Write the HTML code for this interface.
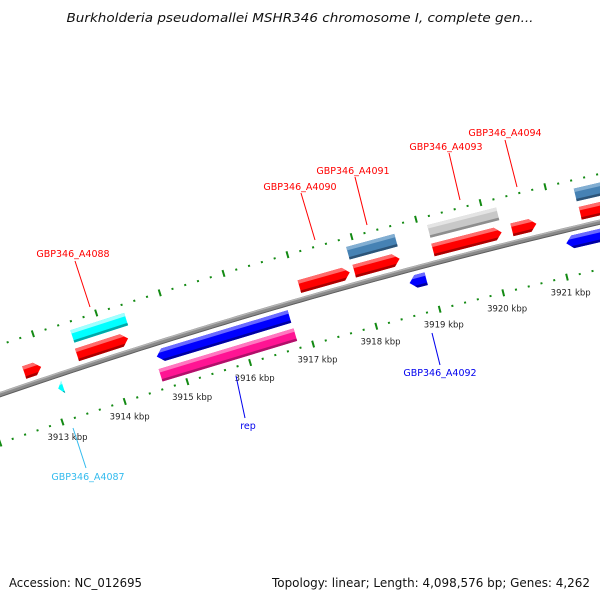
<!DOCTYPE html>
<html><head><meta charset="utf-8"><style>
html,body{margin:0;padding:0;background:#fff;}
svg{display:block;font-family:"DejaVu Sans","Liberation Sans",sans-serif;}
</style></head><body>
<svg id="chart" width="600" height="600" viewBox="0 0 600 600">
<text x="300" y="22" text-anchor="middle" font-size="12.5" font-style="italic" fill="#111" textLength="467" lengthAdjust="spacingAndGlyphs">Burkholderia pseudomallei MSHR346 chromosome I, complete gen...</text>
<g id="ticks"></g>
<g id="backbone"></g>
<g id="feats"></g>
<g id="labels"></g>
<text x="9" y="587" font-size="12" fill="#111" textLength="133" lengthAdjust="spacingAndGlyphs">Accession: NC_012695</text>
<text x="590" y="587" text-anchor="end" font-size="12" fill="#111" textLength="318" lengthAdjust="spacingAndGlyphs">Topology: linear; Length: 4,098,576 bp; Genes: 4,262</text>
</svg>
<script>
// ---- data ----
const featStart = [3912.69, 3913.53, 3913.55, 3913.10, 3914.67, 3914.64, 3917.04, 3917.88, 3917.90, 3918.66, 3919.14, 3919.13, 3920.36, 3921.11, 3921.41, 3921.42];
const featEnd   = [3912.96, 3914.34, 3914.40, 3913.18, 3916.77, 3916.78, 3917.83, 3918.63, 3918.61, 3918.92, 3920.21, 3920.20, 3920.74, 3922.00, 3922.20, 3922.20];
const featTrack = [1, 1, 2, -1, -1, -2, 1, 2, 1, -1, 2, 1, 1, -1, 2, 1];
const featDir   = [1, 1, 0, -1, -1, 0, 1, 0, 1, -1, 0, 1, 1, -1, 0, 1];
const featKind  = ['red','red','cyan','cyan','blue','pink','red','steel','red','blue','gray','red','red','blue','steel','red'];
const tickLabels = [3913, 3914, 3915, 3916, 3917, 3918, 3919, 3920, 3921];
const labelText  = ['GBP346_A4088','GBP346_A4090','GBP346_A4091','GBP346_A4093','GBP346_A4094','rep','GBP346_A4092','GBP346_A4087'];
const labelColor = ['#ff0000','#ff0000','#ff0000','#ff0000','#ff0000','#0000ee','#0000ee','#33bbee'];
const labelPos   = [[73,257],[300,190],[353,174],[446,150],[505,136],[248,429],[440,376],[88,480]];
const leaderFrom = [[75,261],[301,193],[355,177],[449,153],[505,140],[245,418],[440,365],[86,468]];
const leaderTo   = [[90,307],[315,240],[367,225],[460,200],[517,187],[236,376],[432,333],[73,428]];

// ---- geometry ----
const NS='http://www.w3.org/2000/svg';
const CX=1984, CY=6165, R0=6102, DEG0=-18.50, DPK=0.621, K0=3913;
function ang(k){return (DEG0+(k-K0)*DPK)*Math.PI/180;}
function P(k,off){const a=ang(k), r=R0+off; return [CX+r*Math.sin(a), CY-r*Math.cos(a)];}
function mk(tag,attrs,parent){const e=document.createElementNS(NS,tag);for(const k in attrs)e.setAttribute(k,attrs[k]);parent.appendChild(e);return e;}
const palette={
 red:['#ff0000','#ff6b6b','#a80000'],
 cyan:['#00ffff','#a0ffff','#00a8a8'],
 blue:['#0000ff','#6a6aff','#0000a0'],
 pink:['#ff1493','#ff78c0','#b0106a'],
 steel:['#4682b4','#82aed2','#2c5478'],
 gray:['#c8c8c8','#e4e4e4','#8e8e8e']
};
const trackOff={'1':[6.5,19.5],'2':[25.5,38.5],'-1':[-19.5,-6.5],'-2':[-38.5,-25.5]};

// ticks
const tg=document.getElementById('ticks');
[47,-46].forEach(function(off,ti){
  for(let i=0;i<=55;i++){
    const k=3912.0+i*0.2;
    const major=Math.abs(k-Math.round(k))<1e-6;
    const h=major?3.5:1;
    const a=P(k,off-h), b=P(k,off+h);
    const t=mk('line',{x1:a[0].toFixed(2),y1:a[1].toFixed(2),x2:b[0].toFixed(2),y2:b[1].toFixed(2),stroke:'#138a13','stroke-width':2},tg);
    
    
  }
});
tickLabels.forEach(function(k){
  const p=P(k,-46-16);
  const t=mk('text',{x:p[0].toFixed(1),y:(p[1]+3).toFixed(1),'text-anchor':'middle','font-size':'8.5',fill:'#222'},tg);
  t.textContent=k+' kbp';
  
  
});

// backbone
const bg=document.getElementById('backbone');
function arcPts(off){const pts=[];for(let k=3911.8;k<=3922.6;k+=0.1){const p=P(k,off);pts.push(p[0].toFixed(2)+','+p[1].toFixed(2));}return pts.join(' ');}
const b1=mk('polyline',{points:arcPts(0),fill:'none',stroke:'#8a8a8a','stroke-width':5},bg);


const b2=mk('polyline',{points:arcPts(1.6),fill:'none',stroke:'#b4b4b4','stroke-width':1.4},bg);


const b3=mk('polyline',{points:arcPts(-2.2),fill:'none',stroke:'#5e5e5e','stroke-width':1},bg);



// features
const fg=document.getElementById('feats');
function bandPoly(k0,k1,dir,A,mid,half,ra,rb){
  const offs=[ra]; if(mid>ra&&mid<rb) offs.push(mid); offs.push(rb);
  function endK(o){return dir===1? k1-A*Math.abs(o-mid)/half : k1;}
  function startK(o){return dir===-1? k0+A*Math.abs(o-mid)/half : k0;}
  const pts=[];
  offs.forEach(function(o){pts.push(P(endK(o),o));});
  offs.slice().reverse().forEach(function(o){pts.push(P(startK(o),o));});
  return pts.map(function(p){return p[0].toFixed(2)+','+p[1].toFixed(2);}).join(' ');
}
for(let i=0;i<featStart.length;i++){
  const k0=featStart[i], k1=featEnd[i], dir=featDir[i];
  const tr=trackOff[String(featTrack[i])];
  const lo=tr[0], hi=tr[1], mid=(lo+hi)/2, half=(hi-lo)/2;
  const A=dir===0?0:Math.min(0.1,(k1-k0));
  const c=palette[featKind[i]];
  const g=mk('g',{},fg);
  
  
  mk('polygon',{points:bandPoly(k0,k1,dir,A,mid,half,lo,hi),fill:c[0]},g);
  mk('polygon',{points:bandPoly(k0,k1,dir,A,mid,half,hi-3.5,hi),fill:c[1]},g);
  mk('polygon',{points:bandPoly(k0,k1,dir,A,mid,half,lo,lo+2.5),fill:c[2]},g);
}

// labels
const lg=document.getElementById('labels');
for(let i=0;i<labelText.length;i++){
  const l=mk('line',{x1:leaderFrom[i][0],y1:leaderFrom[i][1],x2:leaderTo[i][0],y2:leaderTo[i][1],stroke:labelColor[i],'stroke-width':1},lg);
  
  
  const t=mk('text',{x:labelPos[i][0],y:labelPos[i][1],'text-anchor':'middle','font-size':'9.5',fill:labelColor[i]},lg);
  t.textContent=labelText[i];
  
  
}
</script>
</body></html>
